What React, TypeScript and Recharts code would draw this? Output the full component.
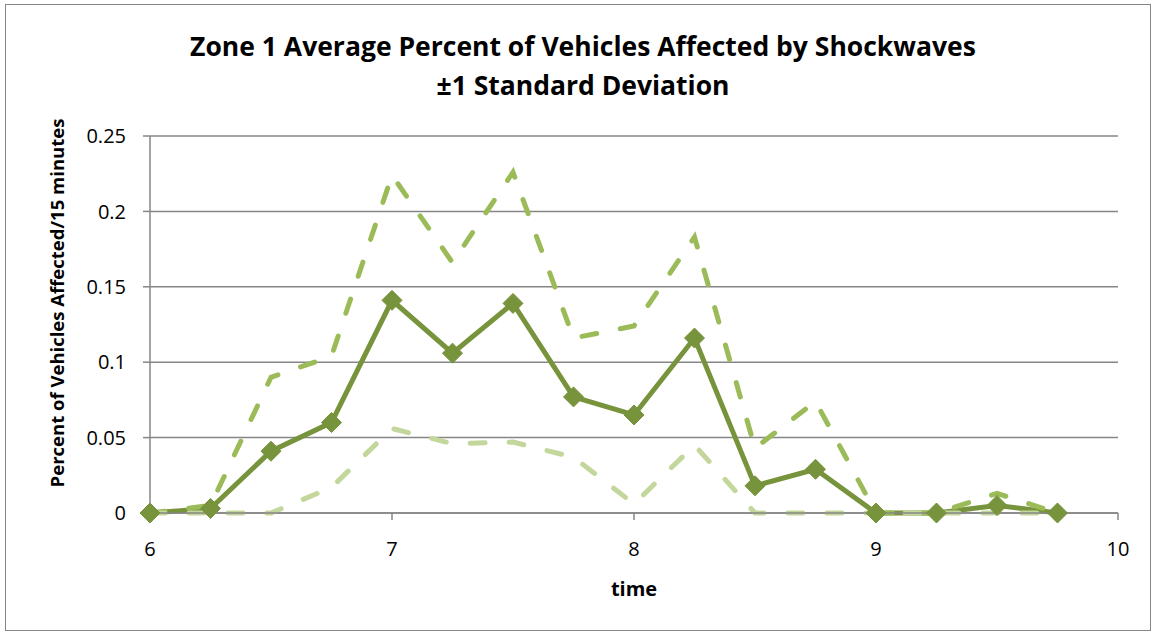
import React from 'react';
import { LineChart, Line, XAxis, YAxis, CartesianGrid } from 'recharts';

const times = [6, 6.25, 6.5, 6.75, 7, 7.25, 7.5, 7.75, 8, 8.25, 8.5, 8.75, 9, 9.25, 9.5, 9.75];
const meanValues = [0, 0.003, 0.041, 0.06, 0.141, 0.106, 0.139, 0.077, 0.065, 0.116, 0.018, 0.029, 0, 0, 0.005, 0];
const upperValues = [0, 0.005, 0.09, 0.104, 0.224, 0.166, 0.226, 0.116, 0.124, 0.183, 0.043, 0.074, 0, 0, 0.013, 0];
const lowerValues = [0, 0, 0, 0.017, 0.056, 0.046, 0.047, 0.037, 0.006, 0.045, 0, 0, 0, 0, 0, 0];
const xTicks = [6, 7, 8, 9, 10];
const yTicks = [0, 0.05, 0.1, 0.15, 0.2, 0.25];

const data = times.map((t, i) => ({ t, mean: meanValues[i], upper: upperValues[i], lower: lowerValues[i] }));

const FONT = '"Open Sans", "Liberation Sans", sans-serif';
const GRID = '#868686';

const Diamond = (props: any) => {
  const { cx, cy } = props;
  if (cx == null || cy == null) return null;
  const r = 10;
  return (
    <polygon
      points={`${cx},${cy - r} ${cx + r},${cy} ${cx},${cy + r} ${cx - r},${cy}`}
      fill="#77933C"
      stroke="#77933C"
      strokeWidth={1}
    />
  );
};

export default function App() {
  return (
    <div style={{ position: 'absolute', left: 0, top: 0, width: 1156, height: 634, background: '#fff', fontFamily: FONT }}>
      <div style={{ position: 'absolute', left: 5, top: 4, width: 1144, height: 625, border: '1px solid #868686' }} />
      <div style={{ position: 'absolute', left: 0, top: 27, width: 1166, textAlign: 'center', fontWeight: 700, fontSize: 26.5, lineHeight: '39px', color: '#000' }}>
        Zone 1 Average Percent of Vehicles Affected by Shockwaves<br />±1 Standard Deviation
      </div>
      <div style={{ position: 'absolute', left: 0, top: 0 }}>
        <LineChart width={1156} height={634} data={data} margin={{ top: 136, right: 38, bottom: 81, left: 90 }}>
          <CartesianGrid horizontal={true} vertical={false} stroke={GRID} strokeWidth={1.5} />
          <XAxis
            dataKey="t"
            type="number"
            domain={[6, 10]}
            ticks={xTicks}
            height={40}
            stroke={GRID}
            strokeWidth={1.5}
            tickSize={7}
            tickMargin={22}
            tick={{ fill: '#000', fontSize: 20, fontFamily: FONT }}
            label={{ value: 'time', position: 'insideBottom', offset: -43, style: { fontWeight: 700, fontSize: 20, fill: '#000', fontFamily: FONT } }}
          />
          <YAxis
            type="number"
            domain={[0, 0.25]}
            ticks={yTicks}
            width={60}
            stroke={GRID}
            strokeWidth={1.5}
            tickSize={7}
            tickMargin={17}
            tick={{ fill: '#000', fontSize: 20, fontFamily: FONT }}
          />
          <Line type="linear" dataKey="mean" stroke="#77933C" strokeWidth={5} dot={<Diamond />} isAnimationActive={false} />
          <Line type="linear" dataKey="upper" stroke="#9BBB59" strokeWidth={5} strokeDasharray="15 24" strokeLinecap="round" dot={false} isAnimationActive={false} />
          <Line type="linear" dataKey="lower" stroke="#C3D69B" strokeWidth={5} strokeDasharray="15 24" strokeLinecap="round" dot={false} isAnimationActive={false} />
        </LineChart>
      </div>
      <div
        style={{
          position: 'absolute',
          left: 57 - 250,
          top: 303 - 15,
          width: 500,
          height: 30,
          lineHeight: '30px',
          textAlign: 'center',
          fontWeight: 700,
          fontSize: 18.5,
          color: '#000',
          transform: 'rotate(-90deg)',
          transformOrigin: '250px 15px',
          whiteSpace: 'nowrap',
        }}
      >
        Percent of Vehicles Affected/15 minutes
      </div>
    </div>
  );
}
